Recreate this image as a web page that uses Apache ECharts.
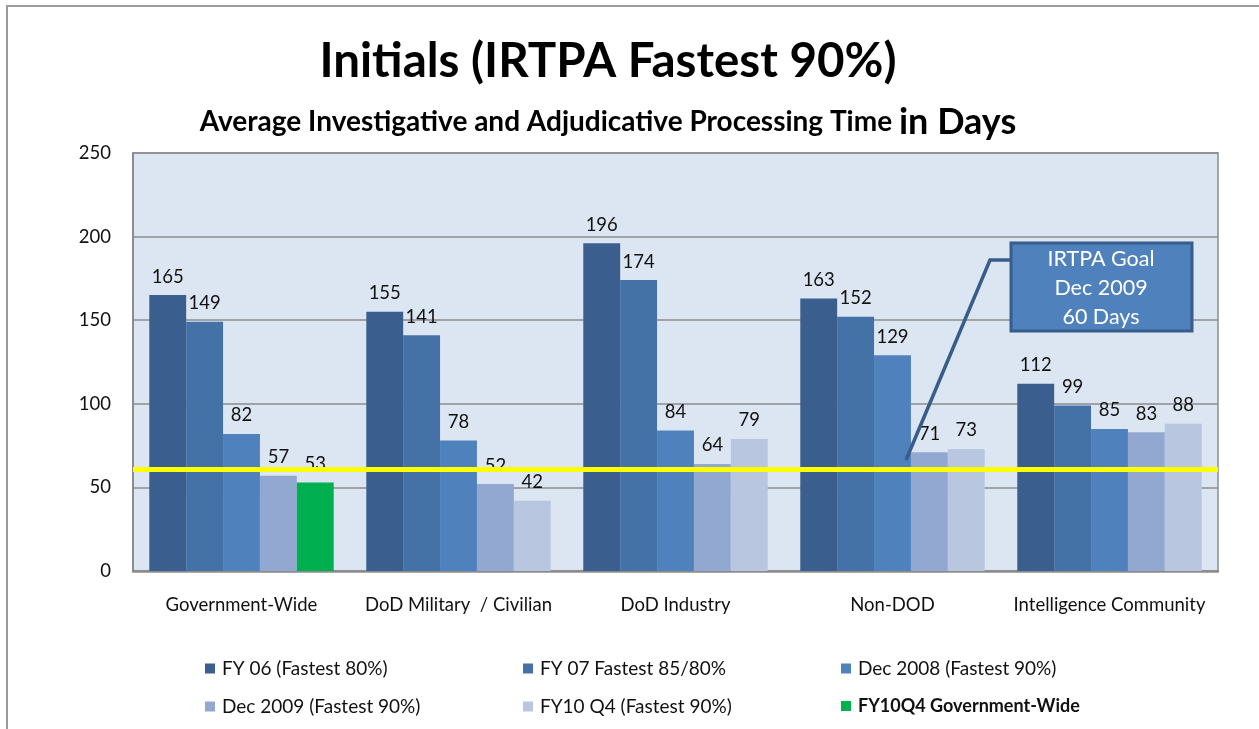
<!DOCTYPE html>
<html>
<head>
<meta charset="utf-8">
<script src="https://cdn.jsdelivr.net/npm/echarts@6/dist/echarts.min.js"></script>
<style>
  html, body { margin: 0; padding: 0; background: #fff; }
  #chart { width: 1259px; height: 729px; }
</style>
</head>
<body>
<div id="chart"></div>
<script>
// categories and series values
var categories = ['Government-Wide', 'DoD Military  / Civilian', 'DoD Industry', 'Non-DOD', 'Intelligence Community'];
var fy06 = [165, 155, 196, 163, 112];
var fy07 = [149, 141, 174, 152, 99];
var dec2008 = [82, 78, 84, 129, 85];
var dec2009 = [57, 52, 64, 71, 83];
var fy10q4 = [null, 42, 79, 73, 88];
var fy10q4GovWide = [53, null, null, null, null];
var goalLine = 61;
var yTicks = [0, 50, 100, 150, 200, 250];

var seriesNames = [
    'FY 06 (Fastest 80%)',
    'FY 07 Fastest 85/80%',
    'Dec 2008 (Fastest 90%)',
    'Dec 2009 (Fastest 90%)',
    'FY10 Q4 (Fastest 90%)',
    'FY10Q4 Government-Wide'
];
var colors = ['#3A5F8E', '#4471A6', '#4F81BD', '#93A8D0', '#B9C6E0', '#00B050'];

var font = 'Lato, "Open Sans", sans-serif';

var label = {
    show: true,
    position: 'top',
    distance: 9,
    color: '#111',
    fontSize: 18.5,
    fontFamily: font
};

function bar(i, data, extra) {
    var s = {
        name: seriesNames[i],
        type: 'bar',
        data: data,
        barGap: '0%',
        barCategoryGap: '15%',
        itemStyle: {color: colors[i]},
        label: label
    };
    for (var k in extra) s[k] = extra[k];
    return s;
}

// six one-item legends laid out in a 3 x 2 grid
var legendPos = [[200, 654], [518, 654], [836, 654], [200, 692], [518, 692], [836, 692]];
var legends = seriesNames.map(function(name, i) {
    return {
        data: [name],
        left: legendPos[i][0],
        top: legendPos[i][1],
        icon: 'rect',
        itemWidth: 10,
        itemHeight: 10,
        itemGap: 0,
        selectedMode: false,
        textStyle: {
            fontSize: i == 5 ? 18 : 19,
            color: '#111',
            fontFamily: font,
            fontWeight: i == 5 ? 'bold' : 'normal',
            padding: [0, 0, 0, 2]
        }
    };
});

var myChart = echarts.init(document.getElementById('chart'));
myChart.setOption({
    animation: false,
    textStyle: {fontFamily: font},
    title: [
        {
            text: 'Initials (IRTPA Fastest 90%)',
            left: 603,
            top: 33,
            textAlign: 'center',
            textStyle: {fontSize: 47.5, fontWeight: 'bold', color: '#000', fontFamily: font}
        },
        {
            text: '{a|Average Investigative and Adjudicative Processing Time }{b|in Days}',
            left: 603,
            top: 99,
            textAlign: 'center',
            textStyle: {
                rich: {
                    a: {fontSize: 28, fontWeight: 'bold', color: '#000', fontFamily: font},
                    b: {fontSize: 36, fontWeight: 'bold', color: '#000', fontFamily: font}
                }
            }
        }
    ],
    legend: legends,
    grid: {
        left: 133,
        right: 41,
        top: 153,
        bottom: 158,
        show: true,
        backgroundColor: '#DCE6F2',
        borderColor: '#8C8C8C',
        borderWidth: 1.5
    },
    xAxis: {
        type: 'category',
        data: categories,
        axisTick: {show: false},
        axisLine: {lineStyle: {color: '#8C8C8C', width: 2.5}},
        axisLabel: {fontSize: 18.5, color: '#111', margin: 25, interval: 0, fontFamily: font}
    },
    yAxis: {
        type: 'value',
        min: yTicks[0],
        max: yTicks[yTicks.length - 1],
        interval: 50,
        axisLine: {show: true, lineStyle: {color: '#8C8C8C', width: 2}},
        axisTick: {show: false},
        axisLabel: {fontSize: 18.5, color: '#111', margin: 22, fontFamily: font},
        splitLine: {lineStyle: {color: '#8C8C8C', width: 1.5}}
    },
    series: [
        bar(0, fy06, {
            markLine: {
                silent: true,
                symbol: 'none',
                label: {show: false},
                lineStyle: {color: '#FFFF00', width: 5, type: 'solid'},
                data: [{yAxis: goalLine}]
            }
        }),
        bar(1, fy07),
        bar(2, dec2008),
        bar(3, dec2009),
        bar(4, fy10q4, {stack: 'q4'}),
        bar(5, fy10q4GovWide, {stack: 'q4'})
    ],
    graphic: [
        {
            type: 'polyline',
            shape: {points: [[7, 729], [7, 6], [1259, 6]]},
            style: {stroke: '#9A9A9A', lineWidth: 2, fill: null}
        },
        {
            type: 'polyline',
            shape: {points: [[1011, 260], [990, 260], [906, 460]]},
            style: {stroke: '#385D8A', lineWidth: 3.5, fill: null},
            z: 10
        },
        {
            type: 'rect',
            shape: {x: 1011, y: 243, width: 181, height: 88},
            style: {fill: '#4F81BD', stroke: '#385D8A', lineWidth: 3},
            z: 10
        },
        {
            type: 'text',
            x: 1101,
            y: 245,
            style: {
                text: 'IRTPA Goal\nDec 2009\n60 Days',
                fill: '#fff',
                fontSize: 21.5,
                lineHeight: 29,
                fontFamily: font,
                align: 'center'
            },
            z: 11
        }
    ]
});
</script>
</body>
</html>
